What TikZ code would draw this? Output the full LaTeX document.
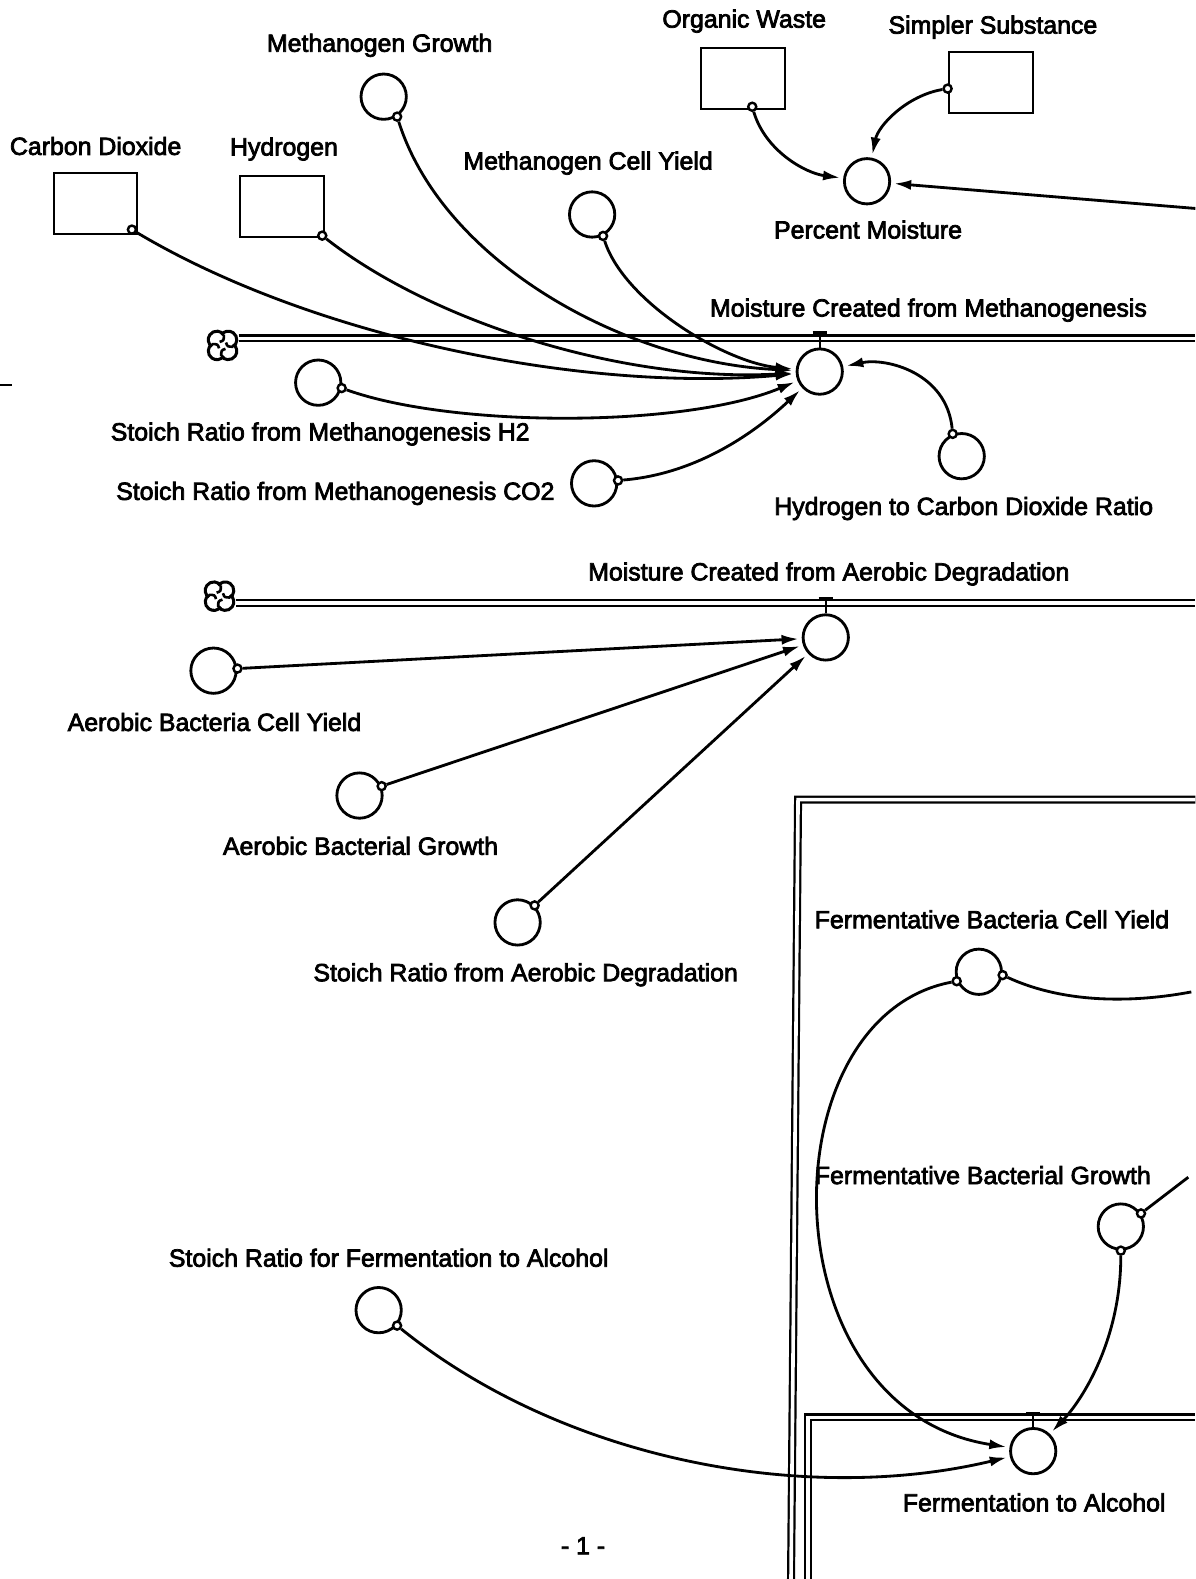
\documentclass[tikz,border=0pt]{standalone}
\usepackage{fontspec}
\setmainfont{Liberation Sans}[FakeBold=3]
\usetikzlibrary{arrows.meta}

\begin{document}
\begin{tikzpicture}[x=1pt,y=-1pt,>={Latex[length=17pt,width=10pt]},
  aux/.style={circle,draw,line width=2.8pt,minimum size=45pt,inner sep=0pt},
  stock/.style={rectangle,draw,line width=2pt,minimum width=83pt,minimum height=61pt,inner sep=0pt},
  tap/.style={circle,draw,line width=2.4pt,fill=white,minimum size=8pt,inner sep=0pt},
  lbl/.style={font=\fontsize{24.7}{29}\selectfont,inner sep=0pt},
  link/.style={->,line width=2.8pt,shorten >=3pt},
  wire/.style={line width=2.8pt},
  pipe/.style={double,double distance=3.6pt,line width=2.2pt},
  valve/.style={line width=2.4pt},
  sink/.pic={
    \foreach \a in {45,135,225,315}{
      \draw[line width=3pt] ([shift={(\a-100:8.5)}]\a:8) arc[start angle=\a-100,end angle=\a+100,radius=8.5];
      \draw[line width=2.6pt] (\a+52:10.8) .. controls (\a+60:5) .. (\a+5:4.5);
    }
  }]
  \useasboundingbox (0,0) rectangle (1187,1568);

  \node[stock] (ow)  at (738,78)  {};
  \node[stock] (ss)  at (984,82)  {};
  \node[stock] (co2) at (95,202)  {};
  \node[stock] (h2)  at (280,205) {};
  \node[lbl] (owl)  at (739,21)  {Organic Waste};
  \node[lbl] (ssl)  at (986,27)  {Simpler Substance};
  \node[lbl] (co2l) at (95,145)  {Carbon Dioxide};
  \node[lbl] (h2l)  at (282,148) {Hydrogen};

  \node[aux] (mg)   at (381,96)   {};
  \node[aux] (mcy)  at (588,213)  {};
  \node[aux] (pm)   at (861,180)  {};
  \node[aux] (mcm)  at (814,369)  {};
  \node[aux] (srh)  at (316,380)  {};
  \node[aux] (src)  at (590,480)  {};
  \node[aux] (hcr)  at (955,453)  {};
  \node[aux] (mad)  at (820,633)  {};
  \node[aux] (abcy) at (212,666)  {};
  \node[aux] (abg)  at (357,790)  {};
  \node[aux] (srad) at (514,916)  {};
  \node[aux] (fbcy) at (972,965)  {};
  \node[aux] (fbg)  at (1113,1218) {};
  \node[aux] (sfa)  at (376,1301) {};
  \node[aux] (fta)  at (1026,1441) {};

  \node[lbl] (mgl)   at (377,45)   {Methanogen Growth};
  \node[lbl] (mcyl)  at (584,162)  {Methanogen Cell Yield};
  \node[lbl] (pml)   at (862,228)  {Percent Moisture};
  \node[lbl] (mcml)  at (922,308)  {Moisture Created from Methanogenesis};
  \node[lbl] (srhl)  at (318,431)  {Stoich Ratio from Methanogenesis H2};
  \node[lbl] (srcl)  at (333,490)  {Stoich Ratio from Methanogenesis CO2};
  \node[lbl] (hcrl)  at (957,505)  {Hydrogen to Carbon Dioxide Ratio};
  \node[lbl] (madl)  at (823,570)  {Moisture Created from Aerobic Degradation};
  \node[lbl] (abcyl) at (213,717)  {Aerobic Bacteria Cell Yield};
  \node[lbl] (abgl)  at (358,840)  {Aerobic Bacterial Growth};
  \node[lbl] (sradl) at (522,968)  {Stoich Ratio from Aerobic Degradation};
  \node[lbl] (fbcyl) at (985,913)  {Fermentative Bacteria Cell Yield};
  \node[lbl] (fbgl)  at (976,1167) {Fermentative Bacterial Growth};
  \node[lbl] (sfal)  at (386,1249) {Stoich Ratio for Fermentation to Alcohol};
  \node[lbl] (ftal)  at (1027,1492) {Fermentation to Alcohol};
  \node[lbl] (pg)    at (579,1535) {- 1 -};

  % pipes, clouds and valves
  \coordinate (mcl) at (221,343);
  \coordinate (acl) at (218,592);
  \pic at (mcl) {sink};
  \pic at (acl) {sink};
  \coordinate (mend) at (1187,336);
  \coordinate (aend) at (1187,598.5);
  \draw[pipe] (237,336) -- (mend);
  \draw[pipe] (234,598.5) -- (aend);
  \draw[pipe] (785.5,1568) -- (792.5,794) -- (1187,794);
  \draw[pipe] (802.5,1568) -- (802.5,1407.5) -- (1187,1407.5);
  \coordinate (mv) at (814,330);
  \coordinate (av) at (820,594);
  \coordinate (fv) at (1026,1403);
  \draw[valve] ([xshift=-7pt]mv) -- ([xshift=7pt]mv) (mv) -- (mcm);
  \draw[valve] ([xshift=-7pt]av) -- ([xshift=7pt]av) (av) -- (mad);
  \draw[valve] ([xshift=-7pt]fv) -- ([xshift=7pt]fv) (fv) -- (fta);
  \draw[line width=1.8pt] (0,382) -- (12,382);

  % taps
  \node[tap] (owt)   at (747,106) {};
  \node[tap] (sst)   at (941,88)  {};
  \node[tap] (co2t)  at (131,228) {};
  \node[tap] (h2t)   at (320,234) {};
  \node[tap] (mgt)   at (mg.-56)   {};
  \node[tap] (mcyt)  at (mcy.-63)  {};
  \node[tap] (srht)  at (srh.-13)  {};
  \node[tap] (srct)  at (src.7)    {};
  \node[tap] (hcrt)  at (hcr.112)  {};
  \node[tap] (abcyt) at (abcy.5)   {};
  \node[tap] (abgt)  at (abg.23)   {};
  \node[tap] (sradt) at (srad.45)  {};
  \node[tap] (fbcya) at (fbcy.-157) {};
  \node[tap] (fbcyb) at (fbcy.-8)  {};
  \node[tap] (fbga)  at (fbg.33)   {};
  \node[tap] (fbgb)  at (fbg.-90)  {};
  \node[tap] (sfat)  at (sfa.-40)  {};

  \coordinate (pmin) at (1187,207);
  \coordinate (fbce) at (1183,985);
  \coordinate (fbge) at (1180,1169);

  \draw[link] (owt) .. controls (760,150) and (800,172) .. (pm);
  \draw[link] (sst) .. controls (900,95) and (872,125) .. (pm);
  \draw[link] (pmin) -- (pm);
  \draw[link] (co2t) .. controls (310,335) and (580,390) .. (mcm);
  \draw[link] (h2t) .. controls (430,320) and (620,380) .. (mcm);
  \draw[link] (mgt) .. controls (440,260) and (620,360) .. (mcm);
  \draw[link] (mcyt) .. controls (620,300) and (720,360) .. (mcm);
  \draw[link] (srht) .. controls (450,425) and (680,425) .. (mcm);
  \draw[link] (srct) .. controls (700,470) and (760,420) .. (mcm);
  \draw[link] (hcrt) .. controls (940,370) and (880,355) .. (mcm);
  \draw[link] (abcyt) -- (mad);
  \draw[link] (abgt) -- (mad);
  \draw[link] (sradt) -- (mad);
  \draw[link] (fbcya) .. controls (760,1010) and (760,1400) .. (fta);
  \draw[link] (fbgb) .. controls (1113,1330) and (1075,1390) .. (fta);
  \draw[link] (sfat) .. controls (560,1450) and (800,1495) .. (fta);
  \draw[wire] (fbcyb) .. controls (1060,998) and (1130,995) .. (fbce);
  \draw[wire] (fbga) -- (fbge);
\end{tikzpicture}
\end{document}
